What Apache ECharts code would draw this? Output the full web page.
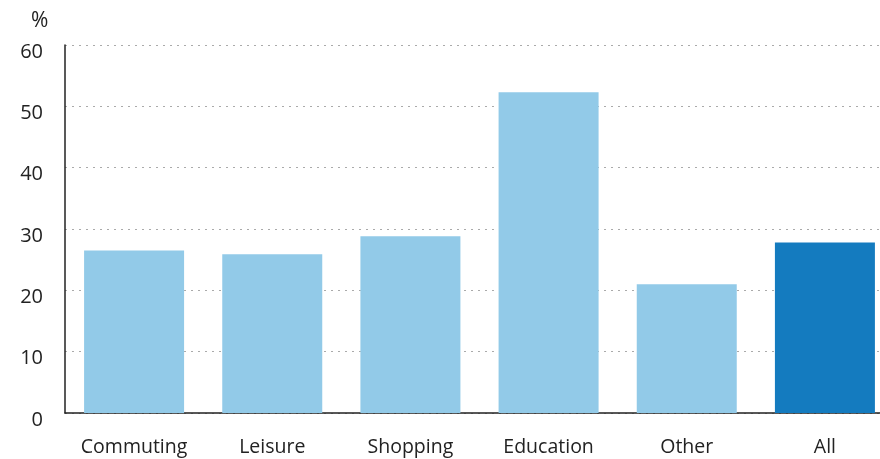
<!DOCTYPE html>
<html><head><meta charset="utf-8">
<script src="https://cdn.jsdelivr.net/npm/echarts@6/dist/echarts.min.js"></script>
<style>html,body{margin:0;padding:0;background:#fff}#c{width:880px;height:459px}</style>
</head><body><div id="c"></div>
<script>
const categories = ['Commuting','Leisure','Shopping','Education','Other','All'];
const values = [26.5, 25.9, 28.8, 52.3, 21.0, 27.8];
const yTicks = [0,10,20,30,40,50,60];
const unitLabel = '%';

const light = '#92CAE8', dark = '#147BBF';
const font = 'Open Sans';
const chart = echarts.init(document.getElementById('c'));
chart.setOption({
  animation:false,
  title:{text:unitLabel,left:26,top:6,textStyle:{fontFamily:font,fontSize:21,fontWeight:'normal',color:'#222'}},
  grid:{left:65,top:45,width:829,bottom:46,containLabel:false,outerBoundsMode:'none'},
  xAxis:{type:'category',data:categories,
    axisLine:{lineStyle:{color:'#222',width:1.5}},axisTick:{show:false},
    axisLabel:{fontFamily:font,fontSize:19.5,color:'#222',margin:24,interval:0}},
  yAxis:{type:'value',min:yTicks[0],max:yTicks[yTicks.length-1],interval:10,
    axisLine:{show:true,lineStyle:{color:'#222',width:1.5}},axisTick:{show:false},
    splitLine:{lineStyle:{color:'#aaa',type:[2,5],width:1}},
    axisLabel:{fontFamily:font,fontSize:20,color:'#222',margin:22,verticalAlign:'top',lineHeight:14}},
  series:[{type:'bar',barWidth:100,
    data:values.map((v,i)=>({value:v,itemStyle:{color:i===values.length-1?dark:light}}))}]
});
</script></body></html>
